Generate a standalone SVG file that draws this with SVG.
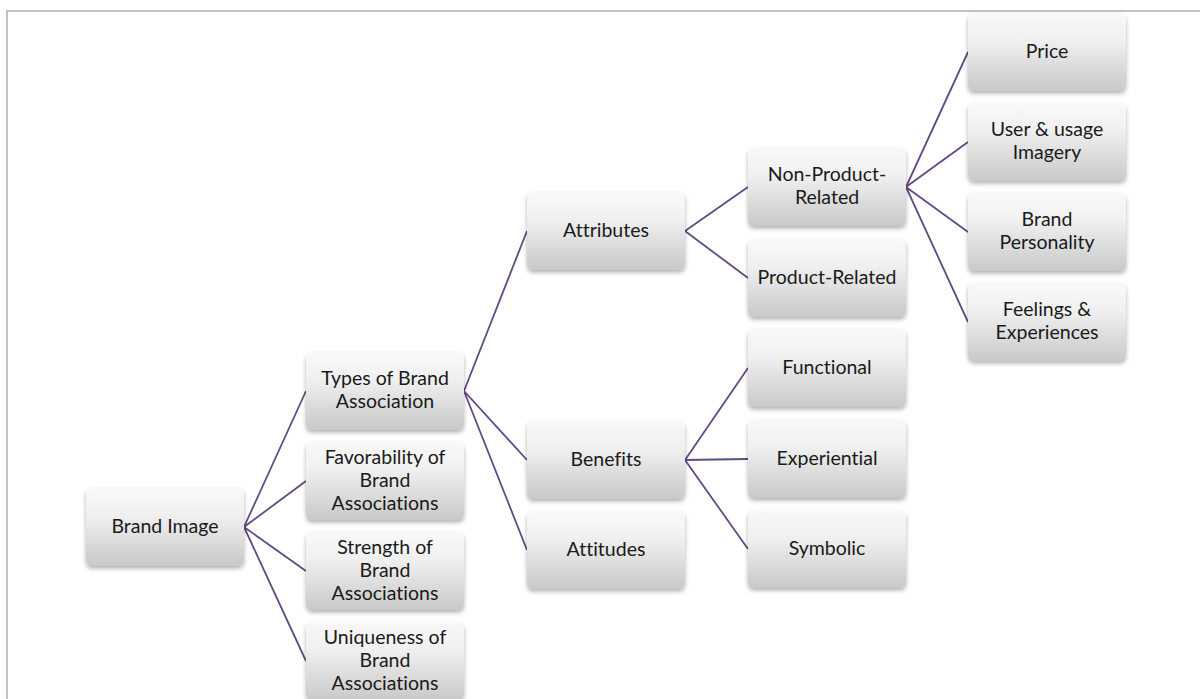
<svg xmlns="http://www.w3.org/2000/svg" width="1200" height="699" viewBox="0 0 1200 699">
  <defs>
    <linearGradient id="boxFill" x1="0" y1="0" x2="0" y2="1">
      <stop offset="0" stop-color="#f9f9f9"/>
      <stop offset="0.35" stop-color="#f0f0f0"/>
      <stop offset="1" stop-color="#c9c9c9"/>
    </linearGradient>
    <filter id="shadow" x="-10%" y="-10%" width="120%" height="130%">
      <feDropShadow dx="0" dy="2.5" stdDeviation="2" flood-color="#000" flood-opacity="0.3"/>
    </filter>
  </defs>
  <style>
    .box { fill: url(#boxFill); filter: url(#shadow); }
    .lbl { font-family: Lato, "Open Sans", "Liberation Sans", sans-serif; font-size: 19.5px; fill: #1a1a1a; text-anchor: middle; font-variant-ligatures: none; font-feature-settings: "liga" 0; }
    .link { stroke: #634a84; stroke-width: 1.8; fill: none; }
    .frame { stroke: #c3c3c3; stroke-width: 2; fill: none; }
  </style>

  <rect width="1200" height="699" fill="#ffffff"/>
  <!-- page frame -->
  <path class="frame" d="M7 699 V11 H1200"/>

  <!-- connectors -->
  <g id="connectors">
    <path class="link" d="M244 527 L306 391 M244 527 L306 481 M244 527 L306 571 M244 527 L306 661"/>
    <path class="link" d="M464 391 L527 231 M464 391 L527 460 M464 391 L527 550"/>
    <path class="link" d="M685 231 L748 187 M685 231 L748 278"/>
    <path class="link" d="M685 460 L748 368 M685 460 L748 459 M685 460 L748 549"/>
    <path class="link" d="M906 187 L968 52 M906 187 L968 142 M906 187 L968 232 M906 187 L968 322"/>
  </g>

  <g id="brand-image">
    <rect class="box" x="86" y="488" width="158" height="78" rx="6"/>
    <text class="lbl" x="165" y="533">Brand Image</text>
  </g>

  <g id="types">
    <rect class="box" x="306" y="352" width="158" height="78" rx="6"/>
    <text class="lbl" x="385" y="385">Types of Brand</text>
    <text class="lbl" x="385" y="408">Association</text>
  </g>
  <g id="favorability">
    <rect class="box" x="306" y="442" width="158" height="78" rx="6"/>
    <text class="lbl" x="385" y="464">Favorability of</text>
    <text class="lbl" x="385" y="487">Brand</text>
    <text class="lbl" x="385" y="510">Associations</text>
  </g>
  <g id="strength">
    <rect class="box" x="306" y="532" width="158" height="78" rx="6"/>
    <text class="lbl" x="385" y="554">Strength of</text>
    <text class="lbl" x="385" y="577">Brand</text>
    <text class="lbl" x="385" y="600">Associations</text>
  </g>
  <g id="uniqueness">
    <rect class="box" x="306" y="622" width="158" height="78" rx="6"/>
    <text class="lbl" x="385" y="644">Uniqueness of</text>
    <text class="lbl" x="385" y="667">Brand</text>
    <text class="lbl" x="385" y="690">Associations</text>
  </g>

  <g id="attributes">
    <rect class="box" x="527" y="192" width="158" height="78" rx="6"/>
    <text class="lbl" x="606" y="237">Attributes</text>
  </g>
  <g id="benefits">
    <rect class="box" x="527" y="421" width="158" height="78" rx="6"/>
    <text class="lbl" x="606" y="466">Benefits</text>
  </g>
  <g id="attitudes">
    <rect class="box" x="527" y="511" width="158" height="78" rx="6"/>
    <text class="lbl" x="606" y="556">Attitudes</text>
  </g>

  <g id="non-product-related">
    <rect class="box" x="748" y="148" width="158" height="78" rx="6"/>
    <text class="lbl" x="827" y="181">Non-Product-</text>
    <text class="lbl" x="827" y="204">Related</text>
  </g>
  <g id="product-related">
    <rect class="box" x="748" y="239" width="158" height="78" rx="6"/>
    <text class="lbl" x="827" y="284">Product-Related</text>
  </g>
  <g id="functional">
    <rect class="box" x="748" y="329" width="158" height="78" rx="6"/>
    <text class="lbl" x="827" y="374">Functional</text>
  </g>
  <g id="experiential">
    <rect class="box" x="748" y="420" width="158" height="78" rx="6"/>
    <text class="lbl" x="827" y="465">Experiential</text>
  </g>
  <g id="symbolic">
    <rect class="box" x="748" y="510" width="158" height="78" rx="6"/>
    <text class="lbl" x="827" y="555">Symbolic</text>
  </g>

  <g id="price">
    <rect class="box" x="968" y="13" width="158" height="78" rx="6"/>
    <text class="lbl" x="1047" y="58">Price</text>
  </g>
  <g id="user-usage-imagery">
    <rect class="box" x="968" y="103" width="158" height="78" rx="6"/>
    <text class="lbl" x="1047" y="136">User &amp; usage</text>
    <text class="lbl" x="1047" y="159">Imagery</text>
  </g>
  <g id="brand-personality">
    <rect class="box" x="968" y="193" width="158" height="78" rx="6"/>
    <text class="lbl" x="1047" y="226">Brand</text>
    <text class="lbl" x="1047" y="249">Personality</text>
  </g>
  <g id="feelings-experiences">
    <rect class="box" x="968" y="283" width="158" height="78" rx="6"/>
    <text class="lbl" x="1047" y="316">Feelings &amp;</text>
    <text class="lbl" x="1047" y="339">Experiences</text>
  </g>
</svg>
